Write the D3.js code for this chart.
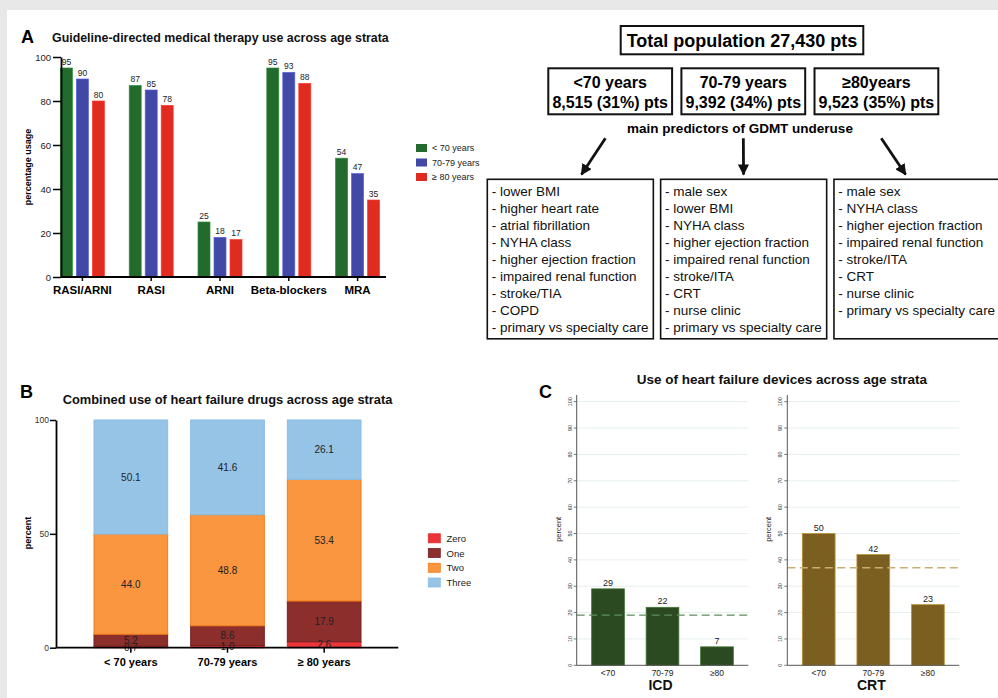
<!DOCTYPE html>
<html><head><meta charset="utf-8">
<script src="https://cdn.jsdelivr.net/npm/d3@7"></script>
<style>
body{margin:0;background:#e8e8e8;}
svg{display:block;font-family:"Liberation Sans",Arial,Helvetica,sans-serif;}
</style></head><body>
<svg id="fig" width="998" height="698"></svg>
<script>
// ---- Panel A: guideline-directed medical therapy ----
const therapyCats = ["RASI/ARNI", "RASI", "ARNI", "Beta-blockers", "MRA"];
const ageGroupsA = ["< 70 years", "70-79 years", "≥ 80 years"];
const usageUnder70 = [95, 87, 25, 95, 54];
const usage70to79 = [90, 85, 18, 93, 47];
const usage80plus = [80, 78, 17, 88, 35];
const usageTicks = [0, 20, 40, 60, 80, 100];

// ---- Flow diagram: population and predictors ----
const totalPatients = "27,430";
const strata = ["<70 years", "70-79 years", "≥80years"];
const strataCounts = ["8,515 (31%) pts", "9,392 (34%) pts", "9,523 (35%) pts"];
const predictorsUnder70 = ["lower BMI", "higher heart rate", "atrial fibrillation", "NYHA class",
  "higher ejection fraction", "impaired renal function", "stroke/TIA", "COPD", "primary vs specialty care"];
const predictors70to79 = ["male sex", "lower BMI", "NYHA class", "higher ejection fraction",
  "impaired renal function", "stroke/ITA", "CRT", "nurse clinic", "primary vs specialty care"];
const predictors80plus = ["male sex", "NYHA class", "higher ejection fraction", "impaired renal function",
  "stroke/ITA", "CRT", "nurse clinic", "primary vs specialty care"];

// ---- Panel B: combined drug use ----
const strataB = ["< 70 years", "70-79 years", "≥ 80 years"];
const comboLevels = ["Zero", "One", "Two", "Three"];
const comboZero = [0.7, 1.0, 2.6];
const comboOne = [5.2, 8.6, 17.9];
const comboTwo = [44.0, 48.8, 53.4];
const comboThree = [50.1, 41.6, 26.1];
const percentTicks = [0, 50, 100];

// ---- Panel C: device use ----
const deviceStrata = ["<70", "70-79", "≥80"];
const icdUse = [29, 22, 7];
const crtUse = [50, 42, 23];
const icdOverall = 19;
const crtOverall = 37;
const deviceTicks = [0, 10, 20, 30, 40, 50, 60, 70, 80, 90, 100];

const svg = d3.select("#fig");
svg.append("rect").attr("x", 7).attr("y", 10).attr("width", 991).attr("height", 688).attr("fill", "#fff");

function panelLetter(t, x, y) {
  svg.append("text").attr("x", x).attr("y", y).attr("font-size", 18).attr("font-weight", "bold").text(t);
}
function title(t, x, y, size) {
  svg.append("text").attr("x", x).attr("y", y).attr("font-size", size).attr("font-weight", "bold").attr("fill", "#111").text(t);
}

// ================= Panel A =================
(function () {
  const g = svg.append("g");
  panelLetter("A", 21, 43);
  title("Guideline-directed medical therapy use across age strata", 52, 41.5, 12.4);

  const colors = ["#236b2c", "#4148a6", "#e02b20"];
  const series = [usageUnder70, usage70to79, usage80plus];
  const x0 = d3.scaleBand().domain(therapyCats).range([48, 392]);
  const x1 = d3.scaleBand().domain(ageGroupsA).range([-22, 22]).paddingInner(0.25);
  const y = d3.scaleLinear().domain([0, 100]).range([277, 57]);

  therapyCats.forEach((c, i) => {
    const cx = x0(c) + x0.bandwidth() / 2;
    ageGroupsA.forEach((s, j) => {
      const v = series[j][i];
      g.append("rect").attr("x", cx + x1(s)).attr("y", y(v))
        .attr("width", x1.bandwidth()).attr("height", y(0) - y(v))
        .attr("fill", colors[j]).attr("stroke", d3.color(colors[j]).brighter(0.8)).attr("stroke-width", 0.7);
      g.append("text").attr("x", cx + x1(s) + x1.bandwidth() / 2).attr("y", y(v) - 3.5)
        .attr("text-anchor", "middle").attr("font-size", 8.5).attr("fill", "#222").text(v);
    });
  });

  const ya = g.append("g").attr("transform", "translate(61,0)")
    .call(d3.axisLeft(y).tickValues(usageTicks).tickSize(8).tickSizeOuter(0).tickPadding(2));
  ya.select(".domain").attr("stroke-width", 1.8);
  ya.selectAll(".tick line").attr("stroke-width", 1.5);
  ya.selectAll("text").attr("font-size", 9.5).attr("fill", "#222").attr("font-family", null);

  g.append("line").attr("x1", 61).attr("x2", 386).attr("y1", y(0)).attr("y2", y(0))
    .attr("stroke", "#000").attr("stroke-width", 1.8);
  therapyCats.forEach(c => {
    const cx = x0(c) + x0.bandwidth() / 2;
    g.append("line").attr("x1", cx).attr("x2", cx).attr("y1", y(0)).attr("y2", y(0) + 4)
      .attr("stroke", "#000").attr("stroke-width", 1.5);
    g.append("text").attr("x", cx).attr("y", 294).attr("text-anchor", "middle")
      .attr("font-size", 11.5).attr("font-weight", "bold").text(c);
  });

  g.append("text").attr("transform", "translate(31,167) rotate(-90)").attr("text-anchor", "middle")
    .attr("font-size", 9).attr("font-weight", "bold").text("percentage usage");

  // legend
  const ly = d3.scalePoint().domain(ageGroupsA).range([148, 177]);
  ageGroupsA.forEach((s, j) => {
    g.append("rect").attr("x", 416).attr("y", ly(s) - 4).attr("width", 11).attr("height", 8).attr("fill", colors[j]);
    g.append("text").attr("x", 432).attr("y", ly(s) + 3.2).attr("font-size", 9).attr("fill", "#222").text(s);
  });
})();

// ================= Flow diagram =================
(function () {
  const g = svg.append("g");
  g.append("text").attr("x", 742).attr("y", 46.5).attr("text-anchor", "middle")
    .attr("font-size", 18).attr("font-weight", "bold").text("Total population " + totalPatients + " pts");
  g.append("rect").attr("x", 620.7).attr("y", 26).attr("width", 242.6).attr("height", 28.3)
    .attr("fill", "none").attr("stroke", "#111").attr("stroke-width", 2);

  const ageX = d3.scaleBand().domain(strata).range([548.3, 938.3]).paddingInner(0.07);
  strata.forEach((s, i) => {
    const x = ageX(s), w = ageX.bandwidth();
    g.append("rect").attr("x", x).attr("y", 68.3).attr("width", w).attr("height", 46)
      .attr("fill", "none").attr("stroke", "#111").attr("stroke-width", 2);
    g.append("text").attr("x", x + w / 2).attr("y", 88).attr("text-anchor", "middle")
      .attr("font-size", 16).attr("font-weight", "bold").text(s);
    g.append("text").attr("x", x + w / 2).attr("y", 107.5).attr("text-anchor", "middle")
      .attr("font-size", 16).attr("font-weight", "bold").text(strataCounts[i]);
  });

  g.append("text").attr("x", 740).attr("y", 132.8).attr("text-anchor", "middle")
    .attr("font-size", 13.5).attr("font-weight", "bold").text("main predictors of GDMT underuse");

  const listX = d3.scaleBand().domain(strata).range([487.3, 1000]).paddingInner(0.042);
  const lists = [predictorsUnder70, predictors70to79, predictors80plus];
  const lineY = d3.scaleLinear().domain([0, 1]).range([195.5, 212.6]);

  g.append("defs").append("marker").attr("id", "ah").attr("viewBox", "0 0 10 10")
    .attr("refX", 9).attr("refY", 5).attr("markerWidth", 4).attr("markerHeight", 4)
    .attr("orient", "auto").attr("markerUnits", "strokeWidth")
    .append("path").attr("d", "M0,0 L10,5 L0,10 Z").attr("fill", "#111");

  strata.forEach((s, i) => {
    const x = listX(s), w = listX.bandwidth();
    const ac = ageX(s) + ageX.bandwidth() / 2;
    const lc = x + w / 2;
    const sx = ac + (lc - ac) * 0.12, ex = ac + (lc - ac) * 0.72;
    g.append("line").attr("x1", sx).attr("y1", 138.3).attr("x2", ex).attr("y2", 174.5)
      .attr("stroke", "#111").attr("stroke-width", 2.8).attr("marker-end", "url(#ah)");
    g.append("rect").attr("x", x).attr("y", 179.3).attr("width", w).attr("height", 159.5)
      .attr("fill", "none").attr("stroke", "#111").attr("stroke-width", 1.6);
    lists[i].forEach((t, k) => {
      g.append("text").attr("x", x + 4.4).attr("y", lineY(k)).attr("font-size", 13.5)
        .attr("fill", "#111").text("- " + t);
    });
  });
})();

// ================= Panel B =================
(function () {
  const g = svg.append("g");
  panelLetter("B", 20, 398);
  title("Combined use of heart failure drugs across age strata", 62.7, 404.3, 12.85);

  const fills = { Zero: "#ea3539", One: "#8b2e2c", Two: "#f9963f", Three: "#95c4e7" };
  const strokes = { Zero: "#e02a2a", One: "#732222", Two: "#f57c17", Three: "#88bde6" };
  const values = { Zero: comboZero, One: comboOne, Two: comboTwo, Three: comboThree };

  const x = d3.scaleBand().domain(strataB).range([94, 361]).paddingInner(0.238);
  const y = d3.scaleLinear().domain([0, 100]).range([647.7, 420]);

  const rows = strataB.map((s, i) => {
    const r = { stratum: s };
    comboLevels.forEach(l => r[l] = values[l][i]);
    return r;
  });
  const stacked = d3.stack().keys(comboLevels)(rows);

  stacked.forEach(layer => {
    layer.forEach(d => {
      g.append("rect").attr("x", x(d.data.stratum)).attr("y", y(d[1]))
        .attr("width", x.bandwidth()).attr("height", y(d[0]) - y(d[1]))
        .attr("fill", fills[layer.key]).attr("stroke", strokes[layer.key]).attr("stroke-width", 1);
    });
  });
  stacked.forEach(layer => {
    layer.forEach(d => {
      g.append("text").attr("x", x(d.data.stratum) + x.bandwidth() / 2).attr("y", y((d[0] + d[1]) / 2) + 3.6)
        .attr("text-anchor", "middle").attr("font-size", 10).attr("fill", "#222")
        .text(d3.format(".1f")(d[1] - d[0]));
    });
  });

  const ya = g.append("g").attr("transform", "translate(56,0)")
    .call(d3.axisLeft(y).tickValues(percentTicks).tickSize(6).tickSizeOuter(0).tickPadding(1));
  ya.select(".domain").attr("stroke-width", 1.8);
  ya.selectAll(".tick line").attr("stroke-width", 1.5);
  ya.selectAll("text").attr("font-size", 8.5).attr("fill", "#333").attr("font-family", null);

  g.append("line").attr("x1", 56).attr("x2", 398.3).attr("y1", y(0)).attr("y2", y(0))
    .attr("stroke", "#000").attr("stroke-width", 1.8);
  strataB.forEach(s => {
    const cx = x(s) + x.bandwidth() / 2;
    g.append("line").attr("x1", cx).attr("x2", cx).attr("y1", y(0)).attr("y2", y(0) + 5)
      .attr("stroke", "#000").attr("stroke-width", 1.5);
    g.append("text").attr("x", cx).attr("y", 665.5).attr("text-anchor", "middle")
      .attr("font-size", 11).attr("font-weight", "bold").text(s);
  });

  g.append("text").attr("transform", "translate(31,533) rotate(-90)").attr("text-anchor", "middle")
    .attr("font-size", 9).attr("font-weight", "bold").text("percent");

  const ly = d3.scalePoint().domain(comboLevels).range([538.3, 582.5]);
  comboLevels.forEach(l => {
    g.append("rect").attr("x", 428.3).attr("y", ly(l) - 4.5).attr("width", 12).attr("height", 9)
      .attr("fill", fills[l]).attr("stroke", strokes[l]).attr("stroke-width", 0.8);
    g.append("text").attr("x", 446.5).attr("y", ly(l) + 3.5).attr("font-size", 9.5).attr("fill", "#222").text(l);
  });
})();

// ================= Panel C =================
(function () {
  const g = svg.append("g");
  panelLetter("C", 539, 398);
  title("Use of heart failure devices across age strata", 636.7, 384, 13.5);

  const y = d3.scaleLinear().domain([0, 100]).range([665.3, 401.7]);

  function devicePlot(x0, x1, vals, overall, barColor, lineColor, name) {
    const x = d3.scaleBand().domain(deviceStrata).range([x0, x1]).paddingInner(0.4).paddingOuter(0.275);
    deviceTicks.filter(t => t > 0).forEach(t => {
      g.append("line").attr("x1", x0).attr("x2", x1).attr("y1", y(t)).attr("y2", y(t))
        .attr("stroke", "#e6eeee").attr("stroke-width", 1);
    });
    vals.forEach((v, i) => {
      const s = deviceStrata[i];
      g.append("rect").attr("x", x(s)).attr("y", y(v)).attr("width", x.bandwidth()).attr("height", y(0) - y(v))
        .attr("fill", barColor).attr("stroke", d3.color(barColor).brighter(1.2)).attr("stroke-width", 0.8);
      g.append("text").attr("x", x(s) + x.bandwidth() / 2).attr("y", y(v) - 3).attr("text-anchor", "middle")
        .attr("font-size", 9).attr("fill", "#222").text(v);
      g.append("text").attr("x", x(s) + x.bandwidth() / 2).attr("y", 676).attr("text-anchor", "middle")
        .attr("font-size", 8.5).attr("fill", "#222").text(s);
    });
    g.append("line").attr("x1", x0).attr("x2", x1).attr("y1", y(overall)).attr("y2", y(overall))
      .attr("stroke", lineColor).attr("stroke-width", 1.3).attr("stroke-dasharray", "8,4.5");
    g.append("line").attr("x1", x0).attr("x2", x0).attr("y1", y(0)).attr("y2", 395)
      .attr("stroke", "#555").attr("stroke-width", 1);
    g.append("line").attr("x1", x0).attr("x2", x1).attr("y1", y(0)).attr("y2", y(0))
      .attr("stroke", "#555").attr("stroke-width", 1);
    deviceTicks.forEach(t => {
      g.append("line").attr("x1", x0 - 3).attr("x2", x0).attr("y1", y(t)).attr("y2", y(t))
        .attr("stroke", "#555").attr("stroke-width", 0.8);
      g.append("text").attr("transform", `translate(${x0 - 5},${y(t)}) rotate(-90)`)
        .attr("text-anchor", "middle").attr("font-size", 5.5).attr("fill", "#333").text(t);
    });
    g.append("text").attr("transform", `translate(${x0 - 16},529.3) rotate(-90)`).attr("text-anchor", "middle")
      .attr("font-size", 7.5).attr("fill", "#222").text("percent");
    g.append("text").attr("x", (x0 + x1) / 2 - 2).attr("y", 689.5).attr("text-anchor", "middle")
      .attr("font-size", 14).attr("font-weight", "bold").attr("fill", "#111").text(name);
  }

  devicePlot(576.7, 748.3, icdUse, icdOverall, "#2b4a21", "#5f8d5c", "ICD");
  devicePlot(787.3, 959.3, crtUse, crtOverall, "#7a5f20", "#c9ad72", "CRT");
})();
</script>
</body></html>
